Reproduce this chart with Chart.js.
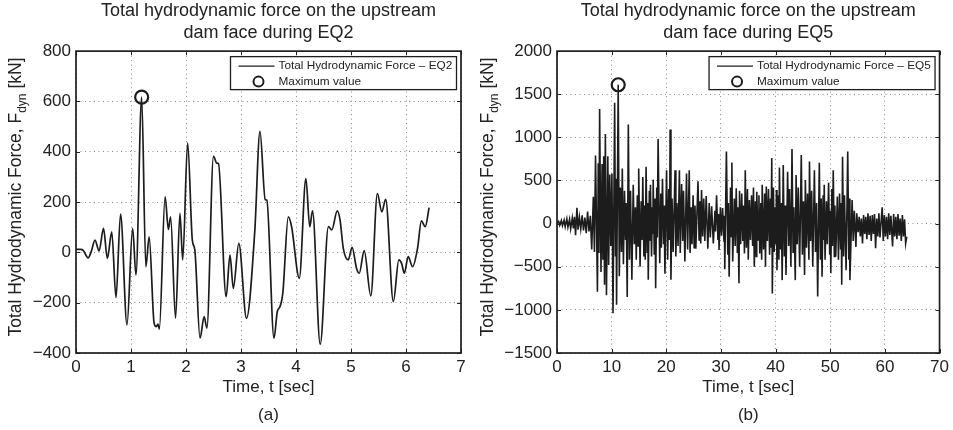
<!DOCTYPE html>
<html>
<head>
<meta charset="utf-8">
<script src="https://cdn.jsdelivr.net/npm/chart.js@4.4.1/dist/chart.umd.min.js"></script>
<style>
html,body{margin:0;padding:0;background:#fff;}
#wrap{position:relative;width:953px;height:430px;overflow:hidden;background:#fff;}
canvas{position:absolute;top:0;}
#c1{left:0;}
#c2{left:476px;}
</style>
</head>
<body>
<div id="wrap">
<canvas id="c1" width="476" height="430"></canvas>
<canvas id="c2" width="477" height="430"></canvas>
</div>
<script>
// ---------- (a) EQ2 ----------
const eq2Time = [0,0.08,0.13,0.22,0.28,0.345,0.42,0.50,0.57,0.65,0.727,0.81,0.927,1.03,1.09,1.194,1.27,1.33,1.42,1.46,1.49,1.515,1.62,1.68,1.72,1.81,1.89,1.94,2.03,2.115,2.16,2.255,2.33,2.38,2.50,2.56,2.59,2.73,2.80,2.86,2.96,3.10,3.25,3.345,3.44,3.47,3.60,3.66,3.71,3.76,3.86,3.92,4.06,4.18,4.25,4.30,4.44,4.59,4.65,4.75,4.80,4.86,4.95,5.02,5.10,5.15,5.24,5.36,5.48,5.56,5.63,5.77,5.87,5.92,5.97,6.04,6.12,6.21,6.28,6.35,6.42];
const eq2Force = [12,12,8,-22,5,49,6,95,-24,82,-180,152,-288,95,-90,617,-57,62,-281,-295,-285,-305,221,91,141,-262,155,-30,435,49,10,-341,-255,-301,382,355,353,-176,-11,-143,36,-262,82,481,210,207,-341,-235,-215,-163,141,102,-103,293,102,165,-365,102,89,165,130,16,-30,20,-63,-83,7,-173,234,161,211,-196,-30,-44,-83,-17,-57,16,125,102,178];
const eq2MaxTime = 1.194;
const eq2MaxForce = 617;
const eq2XTicks = [0,1,2,3,4,5,6,7];
const eq2YTicks = [-400,-200,0,200,400,600,800];

// ---------- (b) EQ5 ----------
const eq5Time = [
0,0.3,0.5,0.8,1.0,1.3,1.5,1.8,2.0,2.3,2.5,2.8,3.0,3.2,3.4,3.65,3.85,4.1,4.35,4.6,4.85,5.1,5.35,5.6,5.85,6.1,6.35,6.65,6.85,7.05,
7.4,7.55,7.68,7.8,8.05,8.25,8.4,8.55,8.7,8.85,9.05,9.3,9.45,9.65,9.85,10.05,10.25,10.55,10.7,10.8,10.9,11.2,11.4,11.6,11.8,11.95,12.15,12.35,12.55,12.65,12.85,13.05,13.25,13.45,13.7,13.95,14.15,14.35,14.5,14.7,14.85,14.95,
15.2,15.4,15.55,15.7,15.9,16.05,16.15,16.3,16.5,16.6,16.7,16.9,17.0,17.1,17.3,17.45,17.55,17.6,17.8,17.95,18.05,18.25,18.35,18.5,18.8,19.0,19.1,19.3,19.5,19.6,19.75,
20.05,20.25,20.45,20.6,20.7,20.85,21.05,21.25,21.6,21.75,21.95,22.15,22.4,22.55,22.8,23.0,23.15,23.4,23.7,23.9,24.2,24.35,24.55,24.7,24.9,
25.1,25.25,25.4,25.8,26.0,26.15,26.3,26.45,26.65,26.85,27.05,27.3,27.6,27.85,28.05,28.3,28.6,28.9,29.0,29.2,29.45,29.55,29.65,29.9,
30.1,30.3,30.55,30.62,30.7,31.0,31.25,31.35,31.5,31.75,31.85,32.0,32.15,32.45,32.6,32.8,33.0,33.1,33.3,33.4,33.6,33.8,34.0,34.15,34.3,34.45,34.65,34.85,
35.0,35.2,35.4,35.6,35.8,35.95,36.1,36.3,36.45,36.55,36.8,36.95,37.1,37.3,37.45,37.55,37.8,38.0,38.15,38.3,38.5,38.7,38.9,39.05,39.15,39.3,39.4,39.6,39.75,39.9,
40.05,40.15,40.25,40.5,40.6,40.7,40.9,41.05,41.2,41.4,41.6,41.75,41.9,42.2,42.4,42.55,42.8,43.0,43.2,43.35,43.6,43.75,43.95,44.15,44.4,44.7,44.9,
45.1,45.3,45.45,45.65,45.85,46.1,46.2,46.4,46.6,46.8,47.1,47.3,47.5,47.7,48.0,48.2,48.35,48.5,48.7,48.8,48.9,49.05,49.3,49.45,49.7,49.9,
50.0,50.1,50.3,50.4,50.55,50.75,50.85,51.0,51.3,51.5,51.7,51.9,52.0,52.1,52.25,52.45,52.6,52.9,53.2,53.4,53.5,53.6,54.0,54.2,54.4,54.7,54.85,
55.1,55.3,55.5,55.7,55.9,56.1,56.3,56.5,56.7,56.9,57.1,57.3,57.5,57.7,57.9,58.1,58.3,58.5,58.7,58.9,59.1,59.5,59.7,59.9,
60.1,60.3,60.5,60.7,60.9,61.1,61.4,61.6,61.8,62.0,62.2,62.4,62.6,62.8,63.0,63.2,63.4,63.6,63.8,64.0];
const eq5Force = [
0,25,-20,35,-25,40,-35,55,-40,50,-60,65,-55,80,-135,185,-70,75,-60,95,-80,70,-110,140,-90,90,-300,310,-330,790,
-790,700,-340,1330,-560,690,-420,780,-710,1040,-830,780,-480,570,-260,580,-1040,1400,-380,520,-940,1610,-610,420,-330,640,-470,380,-190,240,-850,1150,-420,380,-650,450,-240,190,-420,330,-260,640,
-500,260,-190,540,-380,210,-420,660,-330,240,-650,380,-200,450,-380,190,-120,510,-360,290,-750,420,-160,980,-460,350,-280,520,-240,210,-580,
620,-420,400,-190,1090,-650,290,-330,620,-380,240,-260,620,-340,460,-200,380,-440,580,-300,620,-340,190,-240,330,
-280,210,-290,490,-190,260,-230,390,-150,290,-200,320,-290,240,-160,200,-230,150,-90,330,-190,110,-305,190,
-140,180,-210,90,-530,835,-360,240,-615,420,-150,710,-440,290,-260,410,-330,190,-690,380,-240,350,-200,210,-345,620,-280,400,
-420,275,-190,330,-260,420,-500,260,-380,370,-190,330,-345,240,-420,450,-300,350,-500,430,-200,400,-360,290,-280,760,-810,420,-330,190,
-240,390,-540,330,-420,650,-300,240,-655,680,-380,210,-595,600,-260,400,-500,865,-330,190,-655,565,-240,420,-500,795,-360,
260,-595,505,-280,350,-420,720,-200,380,-500,620,-330,240,-845,705,-420,290,-615,330,-190,450,-420,260,-240,475,-360,
150,-575,400,-260,620,-380,210,-385,315,-420,350,-300,240,-710,775,-380,330,-540,835,-420,290,-655,275,-200,150,-270,120,
-100,80,-150,60,-230,100,-120,80,-180,120,-130,90,-200,100,-120,110,-285,60,-150,120,-160,190,-200,100,
-150,80,-180,120,-130,90,-265,110,-150,80,-180,110,-140,60,-200,100,-150,50,-230,-150];
const eq5MaxTime = 11.2;
const eq5MaxForce = 1610;
const eq5XTicks = [0,10,20,30,40,50,60,70];
const eq5YTicks = [-1500,-1000,-500,0,500,1000,1500,2000];

const FONT = '"Liberation Sans", Arial, Helvetica, sans-serif';
Chart.defaults.font.family = FONT;
Chart.defaults.color = '#222';

function framePlugin(cfg) {
  return {
    id: 'frame' + cfg.id,
    afterDraw(chart) {
      const ctx = chart.ctx, a = chart.chartArea;
      const xs = chart.scales.x, ys = chart.scales.y;
      ctx.save();
      // inner tick marks
      ctx.strokeStyle = '#222';
      ctx.lineWidth = 1;
      ctx.beginPath();
      xs.ticks.forEach(t => {
        const px = Math.round(xs.getPixelForValue(t.value)) + 0.5;
        ctx.moveTo(px, a.bottom); ctx.lineTo(px, a.bottom - 4);
        ctx.moveTo(px, a.top); ctx.lineTo(px, a.top + 4);
      });
      ys.ticks.forEach(t => {
        const py = Math.round(ys.getPixelForValue(t.value)) + 0.5;
        ctx.moveTo(a.left, py); ctx.lineTo(a.left + 4, py);
        ctx.moveTo(a.right, py); ctx.lineTo(a.right - 4, py);
      });
      ctx.stroke();
      // frame
      ctx.lineWidth = 1.7;
      ctx.strokeStyle = '#1e1e1e';
      ctx.strokeRect(a.left, a.top, a.right - a.left, a.bottom - a.top);

      // legend box
      const w = 226, h = 33;
      const x0 = a.right - 4.5 - w, y0 = a.top + 5.5;
      ctx.fillStyle = '#fff';
      ctx.fillRect(x0, y0, w, h);
      ctx.lineWidth = 1.3;
      ctx.strokeRect(x0, y0, w, h);
      const ds = chart.data.datasets;
      ctx.strokeStyle = '#1c1c1c';
      ctx.lineWidth = 1.4;
      ctx.beginPath();
      ctx.moveTo(x0 + 8, y0 + 9.5); ctx.lineTo(x0 + 44, y0 + 9.5);
      ctx.stroke();
      ctx.lineWidth = 2;
      ctx.beginPath();
      ctx.arc(x0 + 28, y0 + 25, 5, 0, Math.PI * 2);
      ctx.stroke();
      ctx.fillStyle = '#222';
      ctx.font = '11.8px ' + FONT;
      ctx.textBaseline = 'middle';
      ctx.textAlign = 'left';
      ctx.fillText(ds[0].label, x0 + 48, y0 + 9.5);
      ctx.fillText(ds[1].label, x0 + 48, y0 + 25.5);

      // y axis title with subscript
      const main = 'Total Hydrodynamic Force, F', sub = 'dyn', tail = ' [kN]';
      const fMain = '17.5px ' + FONT, fSub = '12px ' + FONT;
      ctx.font = fMain; const w1 = ctx.measureText(main).width; const w3 = ctx.measureText(tail).width;
      ctx.font = fSub; const w2 = ctx.measureText(sub).width;
      const total = w1 + w2 + w3;
      ctx.translate(cfg.yTitleBase, cfg.yTitleCenter);
      ctx.rotate(-Math.PI / 2);
      ctx.textBaseline = 'alphabetic';
      let x = -total / 2;
      ctx.font = fMain; ctx.fillText(main, x, 0); x += w1;
      ctx.font = fSub; ctx.fillText(sub, x, 5); x += w2;
      ctx.font = fMain; ctx.fillText(tail, x, 0);
      ctx.restore();
    }
  };
}

function buildChart(cfg) {
  const lineData = cfg.time.map((t, i) => ({ x: t, y: cfg.force[i] }));
  return new Chart(document.getElementById(cfg.canvas), {
    type: 'line',
    data: {
      datasets: [
        { label: cfg.label, data: lineData, borderColor: '#1c1c1c', borderWidth: cfg.lw,
          pointRadius: 0, fill: false, tension: 0,
          cubicInterpolationMode: cfg.smooth ? 'monotone' : 'default', order: 2 },
        { label: 'Maximum value', data: [{ x: cfg.maxT, y: cfg.maxF }], showLine: false,
          pointRadius: 6.5, pointBorderWidth: 2.2, pointBorderColor: '#1c1c1c',
          pointBackgroundColor: 'rgba(0,0,0,0)', order: 1 }
      ]
    },
    options: {
      responsive: false, animation: false, devicePixelRatio: 1,
      events: [],
      layout: { padding: { left: 0, right: cfg.padRight, top: 0, bottom: 0 } },
      plugins: {
        legend: { display: false },
        tooltip: { enabled: false },
        title: { display: true, fullSize: false, text: cfg.title, color: '#222',
          font: { size: 18, weight: 'normal', lineHeight: 1.17 },
          padding: { top: 1, bottom: 8 } }
      },
      scales: {
        x: {
          type: 'linear', min: cfg.xTicks[0], max: cfg.xTicks[cfg.xTicks.length - 1],
          afterBuildTicks: s => { s.ticks = cfg.xTicks.map(v => ({ value: v })); },
          afterFit: s => { s.height = 77; },
          grid: { color: '#8a8a8a', lineWidth: 1, drawTicks: false },
          border: { display: false, dash: [1, 3.5] },
          ticks: { padding: 4, color: '#222', font: { size: 17 }, maxRotation: 0, autoSkip: false },
          title: { display: true, text: ['Time, t [sec]', cfg.panel], color: '#222',
            font: { size: 17, lineHeight: 1.647 }, padding: { top: 0, bottom: 1 } }
        },
        y: {
          type: 'linear', min: cfg.yTicks[0], max: cfg.yTicks[cfg.yTicks.length - 1],
          afterBuildTicks: s => { s.ticks = cfg.yTicks.map(v => ({ value: v })); },
          afterFit: s => { s.width = cfg.yWidth; },
          grid: { color: '#8a8a8a', lineWidth: 1, drawTicks: false },
          border: { display: false, dash: [1, 3.5] },
          ticks: { padding: 5, color: '#222', font: { size: 17 }, autoSkip: false,
            callback: v => String(v).replace('-', '\u2212') }
        }
      }
    },
    plugins: [framePlugin(cfg)]
  });
}

buildChart({
  id: 'a', canvas: 'c1', time: eq2Time, force: eq2Force, maxT: eq2MaxTime, maxF: eq2MaxForce,
  xTicks: eq2XTicks, yTicks: eq2YTicks, smooth: true, lw: 1.7,
  label: 'Total Hydrodynamic Force \u2013 EQ2',
  title: ['Total hydrodynamic force on the upstream', 'dam face during EQ2'],
  panel: '(a)', padRight: 15, yWidth: 76, yTitleBase: 21, yTitleCenter: 197
});
buildChart({
  id: 'b', canvas: 'c2', time: eq5Time, force: eq5Force, maxT: eq5MaxTime, maxF: eq5MaxForce,
  xTicks: eq5XTicks, yTicks: eq5YTicks, smooth: false, lw: 1.6,
  label: 'Total Hydrodynamic Force \u2013 EQ5',
  title: ['Total hydrodynamic force on the upstream', 'dam face during EQ5'],
  panel: '(b)', padRight: 12, yWidth: 81, yTitleBase: 17, yTitleCenter: 197
});
</script>
</body>
</html>
